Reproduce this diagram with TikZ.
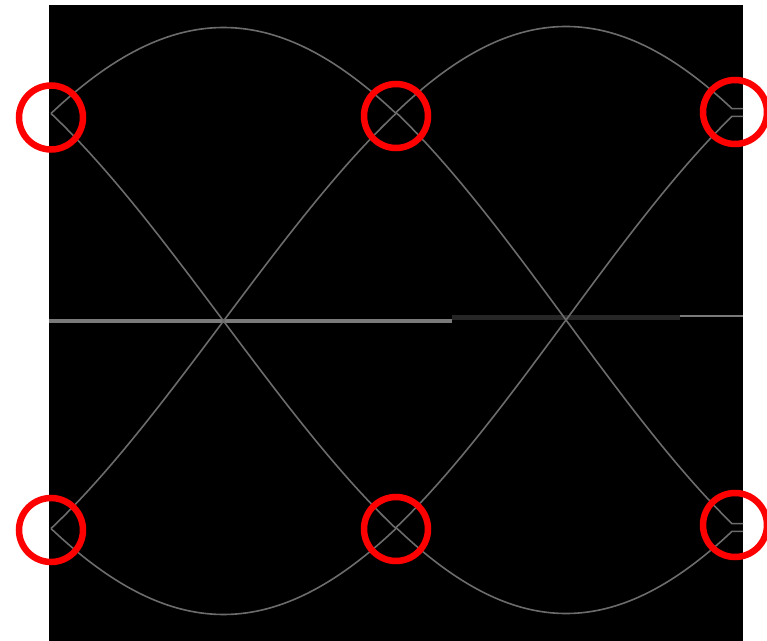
\documentclass[tikz,border=0pt]{standalone}
\begin{document}
\begin{tikzpicture}[x=0.75pt,y=-0.75pt]
\definecolor{tracegray}{HTML}{6C6C6C}
\definecolor{axisgray}{HTML}{7A7A7A}
\definecolor{axisdark}{HTML}{262626}
\tikzset{
  px/.style={line width=#1*0.75pt},
  trace/.style={draw=tracegray, px=1.6},
  marker/.style={circle, draw=red, px=6.5, inner sep=0pt, minimum size=48pt, fill=none},
}
\useasboundingbox (0,0) rectangle (767,641);
\fill[white] (0,0) rectangle (767,641);
\fill[black] (49,5) rectangle (743,641);
% horizontal axis line
\draw[axisgray, px=4.5] (49,320.8) -- (452,320.8);
\draw[axisdark, px=5] (452,318) -- (680,318);
\draw[axisgray, px=1.5] (680,316) -- (743,316);
% eye traces, first window
\foreach \ph in {0,90,180,270}{
  \draw[trace] plot[domain=51:396, samples=90] (\x, {321 - 293.5*sin(45 + \ph + (\x-51)/345*90)});
}
% eye traces, second window (end with short flat stubs)
\foreach \ph in {0,90,180,270}{
  \draw[trace] plot[domain=396:732, samples=90] (\x, {320 - 293.5*sin(45 + \ph + (\x-396)/340*90)}) -- ++(11,0);
}
% red markers
\node[marker] (m1) at (51,117.5) {};
\node[marker] (m2) at (396,116) {};
\node[marker] (m3) at (735,112) {};
\node[marker] (m4) at (51,530) {};
\node[marker] (m5) at (396,529) {};
\node[marker] (m6) at (735,525) {};
\end{tikzpicture}
\end{document}
